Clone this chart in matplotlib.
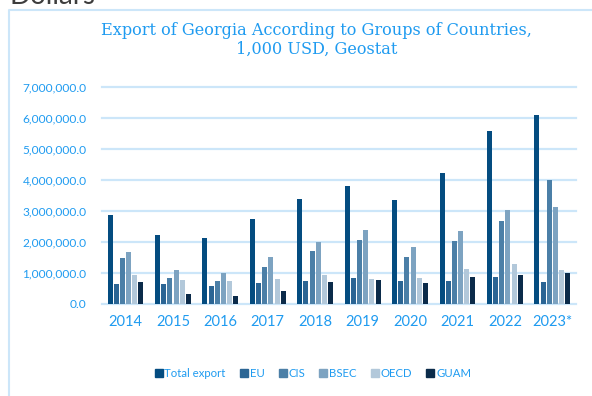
import numpy as np
import matplotlib
matplotlib.use("Agg")
import matplotlib.pyplot as plt
from matplotlib.lines import Line2D

years = ["2014", "2015", "2016", "2017", "2018", "2019", "2020", "2021", "2022", "2023*"]
series = ["Total export", "EU", "CIS", "BSEC", "OECD", "GUAM"]

# values in 1,000 USD
total_export = [2860000, 2210000, 2120000, 2740000, 3380000, 3800000, 3350000, 4240000, 5580000, 6100000]
eu = [630000, 650000, 560000, 660000, 730000, 820000, 720000, 720000, 860000, 700000]
cis = [1470000, 840000, 730000, 1190000, 1700000, 2050000, 1500000, 2020000, 2690000, 4010000]
bsec = [1680000, 1090000, 980000, 1500000, 1990000, 2380000, 1820000, 2340000, 3030000, 3120000]
oecd = [940000, 770000, 750000, 800000, 930000, 810000, 830000, 1120000, 1280000, 1090000]
guam = [690000, 310000, 240000, 410000, 690000, 770000, 670000, 860000, 920000, 980000]

colors = ["#044c80", "#2b6594", "#4b7fa7", "#7da3c1", "#b2c8da", "#0b2b4a"]
txt_blue = "#1f9bf0"
grid_blue = "#cce6f9"

data = [total_export, eu, cis, bsec, oecd, guam]

fig = plt.figure(figsize=(5.92, 3.96), dpi=100)
ax = fig.add_axes([0.172, 0.233, 0.801, 0.5465])

x = np.arange(len(years))
pitch = 0.13
width = 0.105
for k, (vals, c, name) in enumerate(zip(data, colors, series)):
    ax.bar(x + (k - 2.5) * pitch, vals, width, color=c, label=name, zorder=3)

ax.set_xlim(-0.5, len(years) - 0.5)
ax.set_ylim(0, 7000000)
yt = np.arange(0, 7000001, 1000000)
ax.set_yticks(yt)
ax.set_yticklabels([f"{v:,.1f}" for v in yt])
for v in yt:
    ax.axhline(v, color=grid_blue, lw=1.6, zorder=1, clip_on=False)
ax.set_xticks(x)
ax.set_xticklabels(years)
for s in ax.spines.values():
    s.set_visible(False)
ax.tick_params(axis="both", length=0)
ax.tick_params(axis="y", labelsize=8.6, labelcolor=txt_blue, pad=11)
ax.tick_params(axis="x", labelsize=10.5, labelcolor=txt_blue, pad=8)
for lab in ax.get_xticklabels() + ax.get_yticklabels():
    lab.set_family("Lato")

fig.text(0.535, 0.945, "Export of Georgia According to Groups of Countries,\n1,000 USD, Geostat",
         ha="center", va="top", fontsize=11.6, color=txt_blue, family="DejaVu Serif", linespacing=1.15)

handles = [Line2D([], [], marker="s", ls="", color=c, markersize=6) for c in colors]
leg = fig.legend(handles, series, loc="center", bbox_to_anchor=(0.529, 0.058), ncol=6, frameon=False,
                 handlelength=0.6, handletextpad=0.2, columnspacing=1.3,
                 prop={"family": "Lato", "size": 8.2})
for t in leg.get_texts():
    t.set_color(txt_blue)

# page frame and cut-off heading from the source document
fig.add_artist(Line2D([9 / 592, 9 / 592, 1.0], [0.0, 1 - 10 / 396, 1 - 10 / 396],
                      transform=fig.transFigure, color=grid_blue, lw=1.5))
fig.text(10 / 592, 1 - 3.5 / 396, "Dollars", ha="left", va="baseline", fontsize=20,
         color="#3d3d3d", family="Lato")

fig.savefig("out.png", dpi=100)
